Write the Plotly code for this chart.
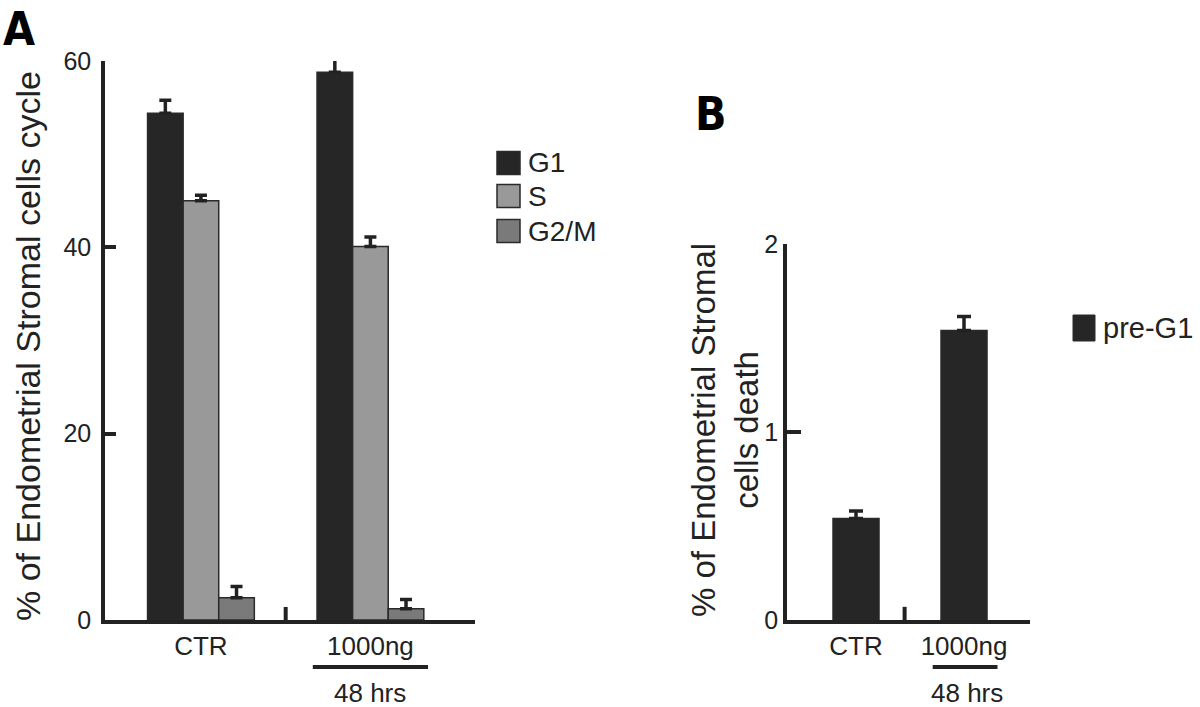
import plotly.graph_objects as go

# ---------------- data ----------------
categories = ["CTR", "1000ng"]
series_names = ["G1", "S", "G2/M"]
g1_values = [54.4, 58.8]
g1_errors = [1.4, 1.5]
s_values = [45.0, 40.1]
s_errors = [0.6, 1.0]
g2m_values = [2.4, 1.2]
g2m_errors = [1.2, 1.0]

death_name = "pre-G1"
death_values = [0.54, 1.54]
death_errors = [0.04, 0.075]

yticks_a = [0, 20, 40, 60]
yticks_b = [0, 1, 2]
time_label = "48 hrs"

# ---------------- style ----------------
W, H = 1200, 707
INK = "#222222"
colors = ["#262626", "#999999", "#7a7a7a"]
FONT = "Liberation Sans, Arial, Helvetica, sans-serif"
LETTER_FONT = "DejaVu Sans Condensed, Liberation Sans Narrow, Arial Narrow, sans-serif"


def px(x):
    return x / W


def py(y):
    return 1 - y / H


fig = go.Figure()

vals = [g1_values, s_values, g2m_values]
errs = [g1_errors, s_errors, g2m_errors]
bw = 0.21
offsets = [-1.5 * bw, -0.5 * bw, 0.5 * bw]
for name, v, e, c, off in zip(series_names, vals, errs, colors, offsets):
    fig.add_trace(go.Bar(
        x=categories, y=v, name=name, width=bw, offset=off,
        marker=dict(color=c, line=dict(color="#2a2a2a", width=1.5)),
        error_y=dict(type="data", array=e, arrayminus=[0] * len(e), symmetric=False,
                     color=INK, thickness=3.5, width=6),
        xaxis="x", yaxis="y", showlegend=False,
    ))

fig.add_trace(go.Bar(
    x=categories, y=death_values, name=death_name, width=0.426, offset=-0.213,
    marker=dict(color=colors[0], line=dict(color="#2a2a2a", width=1.5)),
    error_y=dict(type="data", array=death_errors, arrayminus=[0, 0], symmetric=False,
                 color=INK, thickness=3.5, width=7),
    xaxis="x2", yaxis="y2", showlegend=False,
))

axis_common = dict(showline=True, linecolor=INK, linewidth=3.5, showgrid=False,
                   zeroline=False, automargin=False)

fig.update_layout(
    width=W, height=H, margin=dict(l=0, r=0, t=0, b=0, autoexpand=False),
    paper_bgcolor="white", plot_bgcolor="white",
    barmode="overlay", showlegend=False,
    font=dict(family=FONT, color=INK),
    xaxis=dict(domain=[px(105), px(475)], range=[-0.566, 1.617], type="category",
               anchor="y", ticks="", tickfont=dict(size=26, color=INK),
               ticklabelstandoff=0, **axis_common),
    yaxis=dict(domain=[py(620), py(61)], range=[0, 60], anchor="x",
               tickvals=yticks_a, ticks="inside", ticklen=11, tickwidth=3.5,
               tickcolor=INK, tickfont=dict(size=25, color=INK),
               ticklabelstandoff=5, **axis_common),
    xaxis2=dict(domain=[px(787), px(1030)], range=[-0.639, 1.611], type="category",
                anchor="y2", ticks="", tickfont=dict(size=26, color=INK),
                ticklabelstandoff=0, **axis_common),
    yaxis2=dict(domain=[py(620), py(244)], range=[0, 2], anchor="x2",
                tickvals=yticks_b, ticks="inside", ticklen=14, tickwidth=3.5,
                tickcolor=INK, tickfont=dict(size=25, color=INK),
                ticklabelstandoff=0, **axis_common),
)

shapes = []
annotations = []

# small separator ticks between groups
shapes.append(dict(type="line", xref="x", yref="y", x0=0.5, x1=0.5, y0=0, y1=1.4,
                   line=dict(color=INK, width=4)))
shapes.append(dict(type="line", xref="x2", yref="y2", x0=0.45, x1=0.45, y0=0, y1=0.07,
                   line=dict(color=INK, width=4)))

# underline + "48 hrs"
shapes.append(dict(type="line", xref="x", yref="paper", x0=0.66, x1=1.34,
                   y0=py(667), y1=py(667), line=dict(color=INK, width=4)))
shapes.append(dict(type="line", xref="x2", yref="paper", x0=0.71, x1=1.31,
                   y0=py(667), y1=py(667), line=dict(color=INK, width=4)))
annotations.append(dict(text=time_label, xref="x", yref="paper", x=1.0, y=py(693),
                        showarrow=False, font=dict(size=26, color=INK),
                        xanchor="center", yanchor="middle"))
annotations.append(dict(text=time_label, xref="x2", yref="paper", x=1.03, y=py(693),
                        showarrow=False, font=dict(size=26, color=INK),
                        xanchor="center", yanchor="middle"))

# axis titles
annotations.append(dict(text="% of Endometrial Stromal cells cycle", xref="paper",
                        yref="paper", x=px(28), y=py(346), textangle=-90,
                        showarrow=False, font=dict(size=34, color=INK),
                        xanchor="center", yanchor="middle"))
annotations.append(dict(text="% of Endometrial Stromal<br>cells death", xref="paper",
                        yref="paper", x=px(725), y=py(430), textangle=-90,
                        showarrow=False, font=dict(size=33, color=INK),
                        xanchor="center", yanchor="middle"))

# panel letters
annotations.append(dict(text="<b>A</b>", xref="paper", yref="paper", x=px(19), y=py(1),
                        showarrow=False, borderpad=0,
                        font=dict(size=46, color="#000", family=LETTER_FONT),
                        xanchor="center", yanchor="top"))
annotations.append(dict(text="<b>B</b>", xref="paper", yref="paper", x=px(711), y=py(114),
                        showarrow=False, font=dict(size=46, color="#000", family=LETTER_FONT),
                        xanchor="center", yanchor="middle"))

# custom legend A
leg_y = [163, 196, 231]
for name, c, yc in zip(series_names, colors, leg_y):
    shapes.append(dict(type="rect", xref="paper", yref="paper",
                       x0=px(497), x1=px(520), y0=py(yc + 11.5), y1=py(yc - 11.5),
                       fillcolor=c, line=dict(color="#2a2a2a", width=1.5)))
    annotations.append(dict(text=name, xref="paper", yref="paper", x=px(526), y=py(yc),
                            showarrow=False, font=dict(size=28, color=INK),
                            xanchor="left", yanchor="middle"))

# custom legend B
shapes.append(dict(type="rect", xref="paper", yref="paper",
                   x0=px(1073), x1=px(1095), y0=py(341), y1=py(315),
                   fillcolor=colors[0], line=dict(color="#2a2a2a", width=1)))
annotations.append(dict(text=death_name, xref="paper", yref="paper", x=px(1101), y=py(328),
                        showarrow=False, font=dict(size=29, color=INK),
                        xanchor="left", yanchor="middle"))

fig.update_layout(shapes=shapes, annotations=annotations)
fig.write_html("out.html", config={"displayModeBar": False},
               post_script="document.body.style.margin='0px';")
